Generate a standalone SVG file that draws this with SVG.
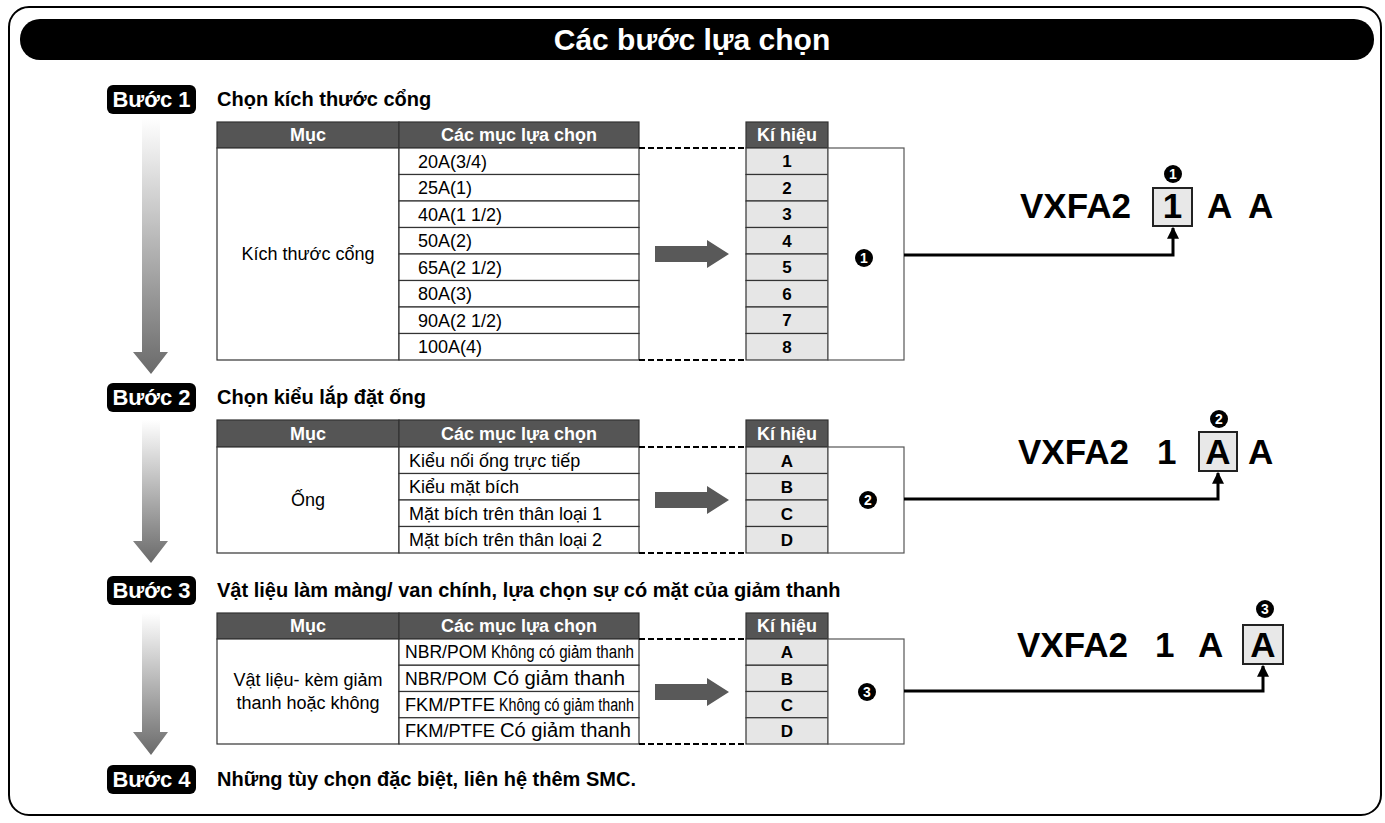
<svg xmlns="http://www.w3.org/2000/svg" width="1385" height="823" viewBox="0 0 1385 823">
<style>
text{font-family:"Liberation Sans",Arial,sans-serif;fill:#000}
.ttl{font-size:30px;font-weight:bold;fill:#fff}
.badge{fill:#000}
.bt{font-size:22px;font-weight:bold;fill:#fff}
.st{font-size:20px;font-weight:bold}
.hd{fill:#555;stroke:#333;stroke-width:1.2}
.ht{font-size:18px;font-weight:bold;fill:#fff}
.cell{fill:#fff;stroke:#333;stroke-width:1.2}
.kc{fill:#e6e6e6;stroke:#333;stroke-width:1.2}
.box{fill:#fff;stroke:#555;stroke-width:1.2}
.ct{font-size:18px}
.kt{font-size:17px;font-weight:bold}
.dash{stroke:#000;stroke-width:2;stroke-dasharray:6 3;fill:none}
.garr{fill:#595959}
.conn{stroke:#000;stroke-width:3;fill:none}
.lbl{font-size:35px;font-weight:bold}
.lbox{fill:#e8e8e8;stroke:#222;stroke-width:2}
.cn{fill:#000}
.cnt{font-size:14px;font-weight:bold;fill:#fff}
.flow{fill:url(#fg)}
</style>
<defs>
<linearGradient id="fg" x1="0" y1="0" x2="0" y2="1">
<stop offset="0" stop-color="#ffffff"/>
<stop offset="1" stop-color="#6a6a6a"/>
</linearGradient>
<marker id="ah" viewBox="0 0 10 10" refX="9" refY="5" markerWidth="4" markerHeight="4" orient="auto" markerUnits="strokeWidth">
<path d="M0,0 L10,5 L0,10 z" fill="#000"/>
</marker>
</defs>

<rect x="9" y="7" width="1372" height="808" rx="20" fill="#fff" stroke="#000" stroke-width="2"/>
<rect x="20" y="19" width="1354" height="41" rx="20" fill="#000"/>
<text class="ttl" x="692" y="50" text-anchor="middle">Các bước lựa chọn</text>

<g id="flow-arrows">
<path class="flow" d="M142,118 H160 V352 H168 L151,374 L133,352 H142 Z"/>
<path class="flow" d="M142,420 H160 V541 H168 L151,563 L133,541 H142 Z"/>
<path class="flow" d="M142,613 H160 V732 H168 L151,755 L133,732 H142 Z"/>
</g>

<g id="step1">
<rect class="badge" x="107" y="85" width="89" height="29" rx="6"/>
<text class="bt" x="151.5" y="107" text-anchor="middle">Bước 1</text>
<text class="st" x="217" y="106">Chọn kích thước cổng</text>
</g>
<g id="table1">
<rect class="hd" x="217" y="122" width="182" height="26"/>
<rect class="hd" x="399" y="122" width="240" height="26"/>
<text class="ht" x="308" y="141" text-anchor="middle">Mục</text>
<text class="ht" x="519" y="141" text-anchor="middle">Các mục lựa chọn</text>
<rect class="cell" x="217" y="148" width="182" height="212"/>
<text class="ct" x="308" y="260" text-anchor="middle">Kích thước cổng</text>
<rect class="cell" x="399" y="148" width="240" height="26.5"/>
<rect class="cell" x="399" y="174.5" width="240" height="26.5"/>
<rect class="cell" x="399" y="201" width="240" height="26.5"/>
<rect class="cell" x="399" y="227.5" width="240" height="26.5"/>
<rect class="cell" x="399" y="254" width="240" height="26.5"/>
<rect class="cell" x="399" y="280.5" width="240" height="26.5"/>
<rect class="cell" x="399" y="307" width="240" height="26.5"/>
<rect class="cell" x="399" y="333.5" width="240" height="26.5"/>
<text class="ct" x="418" y="167.5">20A(3/4)</text>
<text class="ct" x="418" y="194">25A(1)</text>
<text class="ct" x="418" y="220.5">40A(1 1/2)</text>
<text class="ct" x="418" y="247">50A(2)</text>
<text class="ct" x="418" y="273.5">65A(2 1/2)</text>
<text class="ct" x="418" y="300">80A(3)</text>
<text class="ct" x="418" y="326.5">90A(2 1/2)</text>
<text class="ct" x="418" y="353">100A(4)</text>
</g>
<g id="code1">
<rect class="hd" x="746" y="122" width="82" height="26"/>
<text class="ht" x="787" y="141" text-anchor="middle">Kí hiệu</text>
<rect class="kc" x="746" y="148" width="82" height="26.5"/>
<rect class="kc" x="746" y="174.5" width="82" height="26.5"/>
<rect class="kc" x="746" y="201" width="82" height="26.5"/>
<rect class="kc" x="746" y="227.5" width="82" height="26.5"/>
<rect class="kc" x="746" y="254" width="82" height="26.5"/>
<rect class="kc" x="746" y="280.5" width="82" height="26.5"/>
<rect class="kc" x="746" y="307" width="82" height="26.5"/>
<rect class="kc" x="746" y="333.5" width="82" height="26.5"/>
<text class="kt" x="787" y="167" text-anchor="middle">1</text>
<text class="kt" x="787" y="193.5" text-anchor="middle">2</text>
<text class="kt" x="787" y="220" text-anchor="middle">3</text>
<text class="kt" x="787" y="246.5" text-anchor="middle">4</text>
<text class="kt" x="787" y="273" text-anchor="middle">5</text>
<text class="kt" x="787" y="299.5" text-anchor="middle">6</text>
<text class="kt" x="787" y="326" text-anchor="middle">7</text>
<text class="kt" x="787" y="352.5" text-anchor="middle">8</text>
<rect class="box" x="828" y="148" width="76" height="212"/>
<circle class="cn" cx="864" cy="258" r="9"/>
<text class="cnt" x="864" y="263" text-anchor="middle">1</text>
</g>
<g id="result1">
<text class="lbl" x="1020" y="218">VXFA2</text>
<rect class="lbox" x="1153" y="188" width="39" height="38"/>
<text class="lbl" x="1172.5" y="218" text-anchor="middle">1</text>
<text class="lbl" x="1207" y="218">A</text>
<text class="lbl" x="1248" y="218">A</text>
<circle class="cn" cx="1173" cy="174" r="9"/>
<text class="cnt" x="1173" y="179" text-anchor="middle">1</text>
</g>

<g id="step2">
<rect class="badge" x="107" y="383" width="89" height="29" rx="6"/>
<text class="bt" x="151.5" y="405" text-anchor="middle">Bước 2</text>
<text class="st" x="217" y="404">Chọn kiểu lắp đặt ống</text>
</g>
<g id="table2">
<rect class="hd" x="217" y="420" width="182" height="27"/>
<rect class="hd" x="399" y="420" width="240" height="27"/>
<text class="ht" x="308" y="439.5" text-anchor="middle">Mục</text>
<text class="ht" x="519" y="439.5" text-anchor="middle">Các mục lựa chọn</text>
<rect class="cell" x="217" y="447" width="182" height="106"/>
<text class="ct" x="308" y="506" text-anchor="middle">Ống</text>
<rect class="cell" x="399" y="447" width="240" height="26.5"/>
<rect class="cell" x="399" y="473.5" width="240" height="26.5"/>
<rect class="cell" x="399" y="500" width="240" height="26.5"/>
<rect class="cell" x="399" y="526.5" width="240" height="26.5"/>
<text class="ct" x="409" y="466.5">Kiểu nối ống trực tiếp</text>
<text class="ct" x="409" y="493">Kiểu mặt bích</text>
<text class="ct" x="409" y="519.5">Mặt bích trên thân loại 1</text>
<text class="ct" x="409" y="546">Mặt bích trên thân loại 2</text>
</g>
<g id="code2">
<rect class="hd" x="746" y="420" width="82" height="27"/>
<text class="ht" x="787" y="439.5" text-anchor="middle">Kí hiệu</text>
<rect class="kc" x="746" y="447" width="82" height="26.5"/>
<rect class="kc" x="746" y="473.5" width="82" height="26.5"/>
<rect class="kc" x="746" y="500" width="82" height="26.5"/>
<rect class="kc" x="746" y="526.5" width="82" height="26.5"/>
<text class="kt" x="787" y="466.5" text-anchor="middle">A</text>
<text class="kt" x="787" y="493" text-anchor="middle">B</text>
<text class="kt" x="787" y="519.5" text-anchor="middle">C</text>
<text class="kt" x="787" y="546" text-anchor="middle">D</text>
<rect class="box" x="828" y="447" width="76" height="106"/>
<circle class="cn" cx="868" cy="500" r="9"/>
<text class="cnt" x="868" y="505" text-anchor="middle">2</text>
</g>
<g id="result2">
<text class="lbl" x="1018" y="464">VXFA2</text>
<text class="lbl" x="1157" y="464">1</text>
<rect class="lbox" x="1199" y="432" width="38" height="39"/>
<text class="lbl" x="1218" y="464" text-anchor="middle">A</text>
<text class="lbl" x="1248" y="464">A</text>
<circle class="cn" cx="1219" cy="419" r="9"/>
<text class="cnt" x="1219" y="424" text-anchor="middle">2</text>
</g>

<g id="step3">
<rect class="badge" x="107" y="576" width="89" height="29" rx="6"/>
<text class="bt" x="151.5" y="598" text-anchor="middle">Bước 3</text>
<text class="st" x="217" y="597">Vật liệu làm màng/ van chính, lựa chọn sự có mặt của giảm thanh</text>
</g>
<g id="table3">
<rect class="hd" x="217" y="613" width="182" height="26"/>
<rect class="hd" x="399" y="613" width="240" height="26"/>
<text class="ht" x="308" y="632" text-anchor="middle">Mục</text>
<text class="ht" x="519" y="632" text-anchor="middle">Các mục lựa chọn</text>
<rect class="cell" x="217" y="639" width="182" height="105"/>
<text class="ct" x="308" y="686" text-anchor="middle">Vật liệu- kèm giảm</text>
<text class="ct" x="308" y="709" text-anchor="middle">thanh hoặc không</text>
<rect class="cell" x="399" y="639" width="240" height="26.25"/>
<rect class="cell" x="399" y="665.25" width="240" height="26.25"/>
<rect class="cell" x="399" y="691.5" width="240" height="26.25"/>
<rect class="cell" x="399" y="717.75" width="240" height="26.25"/>
<text class="ct" x="405" y="658"><tspan textLength="82" lengthAdjust="spacingAndGlyphs">NBR/POM</tspan><tspan x="491" textLength="143" lengthAdjust="spacingAndGlyphs">Không có giảm thanh</tspan></text>
<text class="ct" x="405" y="685"><tspan textLength="82" lengthAdjust="spacingAndGlyphs">NBR/POM</tspan><tspan x="493" font-size="20" textLength="132" lengthAdjust="spacingAndGlyphs">Có giảm thanh</tspan></text>
<text class="ct" x="405" y="710.5"><tspan textLength="90" lengthAdjust="spacingAndGlyphs">FKM/PTFE</tspan><tspan x="499" textLength="135" lengthAdjust="spacingAndGlyphs">Không có giảm thanh</tspan></text>
<text class="ct" x="405" y="737"><tspan textLength="90" lengthAdjust="spacingAndGlyphs">FKM/PTFE</tspan><tspan x="500" font-size="20" textLength="131" lengthAdjust="spacingAndGlyphs">Có giảm thanh</tspan></text>
</g>
<g id="code3">
<rect class="hd" x="746" y="613" width="82" height="26"/>
<text class="ht" x="787" y="632" text-anchor="middle">Kí hiệu</text>
<rect class="kc" x="746" y="639" width="82" height="26.25"/>
<rect class="kc" x="746" y="665.25" width="82" height="26.25"/>
<rect class="kc" x="746" y="691.5" width="82" height="26.25"/>
<rect class="kc" x="746" y="717.75" width="82" height="26.25"/>
<text class="kt" x="787" y="658" text-anchor="middle">A</text>
<text class="kt" x="787" y="684.5" text-anchor="middle">B</text>
<text class="kt" x="787" y="710.5" text-anchor="middle">C</text>
<text class="kt" x="787" y="737" text-anchor="middle">D</text>
<rect class="box" x="828" y="639" width="76" height="105"/>
<circle class="cn" cx="867" cy="692" r="9"/>
<text class="cnt" x="867" y="697" text-anchor="middle">3</text>
</g>
<g id="result3">
<text class="lbl" x="1017" y="657">VXFA2</text>
<text class="lbl" x="1155" y="657">1</text>
<text class="lbl" x="1198" y="657">A</text>
<rect class="lbox" x="1243" y="625" width="40" height="39"/>
<text class="lbl" x="1263" y="657" text-anchor="middle">A</text>
<circle class="cn" cx="1265" cy="609" r="9"/>
<text class="cnt" x="1265" y="614" text-anchor="middle">3</text>
</g>

<g id="step4">
<rect class="badge" x="107" y="765" width="89" height="29" rx="6"/>
<text class="bt" x="151.5" y="787" text-anchor="middle">Bước 4</text>
<text class="st" x="217" y="786">Những tùy chọn đặc biệt, liên hệ thêm SMC.</text>
</g>

<g id="connectors">
<path class="dash" d="M639,148 H746 M639,360 H746"/>
<path class="dash" d="M639,447 H746 M639,553 H746"/>
<path class="dash" d="M639,639 H746 M639,744 H746"/>
<path class="garr" d="M655,246 H707 V240 L729,254 L707,268 V262 H655 Z"/>
<path class="garr" d="M655,492 H707 V486 L729,500 L707,514 V508 H655 Z"/>
<path class="garr" d="M655,684 H707 V678 L729,692 L707,706 V700 H655 Z"/>
<path class="conn" d="M904,255 H1173 V228" marker-end="url(#ah)"/>
<path class="conn" d="M904,499 H1218 V473" marker-end="url(#ah)"/>
<path class="conn" d="M904,691 H1263 V666" marker-end="url(#ah)"/>
</g>
</svg>
